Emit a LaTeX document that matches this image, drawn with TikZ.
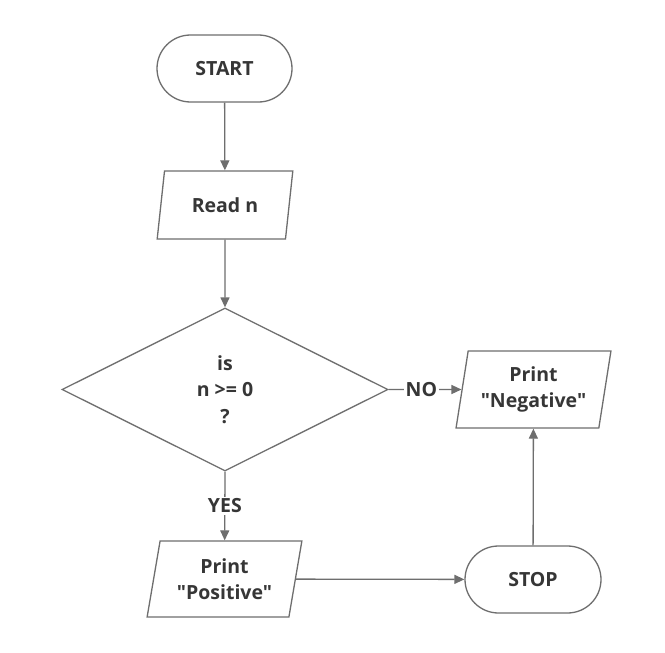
\documentclass[tikz,border=0pt]{standalone}
\usepackage{fontspec}
\setmainfont{Open Sans}[Ligatures=TeXOff]
\usetikzlibrary{shapes.geometric,shapes.misc,arrows.meta}
\definecolor{lineg}{HTML}{6E6E6E}
\definecolor{txt}{HTML}{363636}
\tikzset{
  base/.style={draw=lineg, line width=1.3pt, fill=white, text=txt, font=\fontsize{19.5}{26.5}\selectfont\bfseries, align=center, inner sep=0pt},
  term/.style={base, rounded rectangle, minimum width=135pt, minimum height=67pt},
  io/.style={base, trapezium, trapezium stretches=true, trapezium left angle=#1, trapezium right angle=180-#1},
  dec/.style={base, diamond, minimum width=326pt, minimum height=163pt},
  conn/.style={draw=lineg, line width=1.3pt, -{Triangle[width=9pt,length=10pt]}},
  lbl/.style={fill=white, text=txt, font=\fontsize{19.5}{22}\selectfont\bfseries, inner sep=2pt}
}
\begin{document}
\begin{tikzpicture}[x=1pt,y=-1pt]
\fill[white] (0,0) rectangle (665,653);
\node[term] (start) at (224.5,68.5) {START};
\node[io=75, minimum width=136pt, minimum height=68pt] (read) at (225,205) {Read n};
\node[dec] (dec) at (225,389.5) {is\\n >= 0\\?};
\node[io=78, minimum width=155pt, minimum height=77pt] (neg) at (533.5,389.5) {Print\\"Negative"};
\node[io=77, minimum width=155pt, minimum height=76pt] (pos) at (224.5,579) {Print\\"Positive"};
\node[term, minimum width=136pt] (stop) at (533,579.5) {STOP};
\draw[conn] (start) -- (read);
\draw[conn] (read) -- (dec);
\draw[conn] (dec.east) -- node[lbl, pos=0.45] {NO} (neg);
\draw[conn] (dec.south) -- node[lbl] {YES} (pos);
\draw[conn] (pos) -- (stop);
\draw[conn] (stop) -- (neg);
\end{tikzpicture}
\end{document}
